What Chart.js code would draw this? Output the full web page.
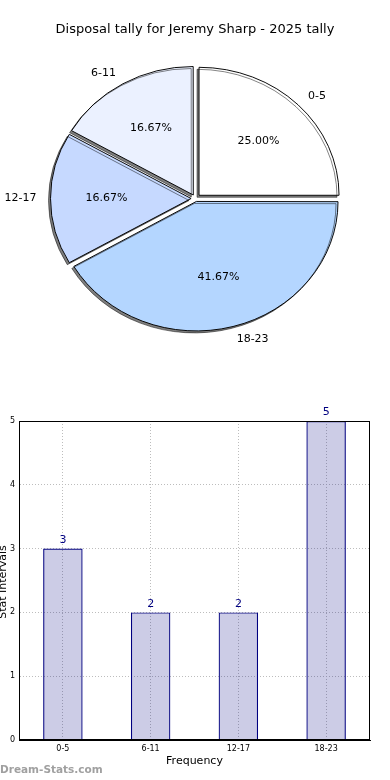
<!doctype html>
<html lang="en">
<head>
    <meta charset="utf-8">
    <title>Disposal tally</title>
    <script src="https://cdn.jsdelivr.net/npm/chart.js@4.4.0/dist/chart.umd.min.js"></script>
    <style>
        body { margin: 0; background: #fff; width: 390px; height: 780px; position: relative; overflow: hidden; }
        #pie { position: absolute; left: 0; top: 0; }
        #bar { position: absolute; left: 0; top: 390px; }
        #mark { position: absolute; left: 0; top: 763px; font: bold 10.5px "DejaVu Sans", sans-serif; color: #a0a0a0; }
    </style>
</head>
<body>
    <canvas id="pie" width="390" height="390"></canvas>
    <canvas id="bar" width="390" height="390"></canvas>
    <div id="mark">Dream-Stats.com</div>

    <script>
        var titulo = 'Disposal tally for Jeremy Sharp - 2025 tally';
        var rangos = ['0-5', '6-11', '12-17', '18-23'];
        var conteo = [3, 2, 2, 5];
        var colores = ['#ffffff', '#ebf1ff', '#c6d9ff', '#b4d6ff'];
        var ticksY = [0, 1, 2, 3, 4, 5];

        var fuente = '"DejaVu Sans", sans-serif';
        var total = conteo.reduce(function (a, b) { return a + b; }, 0);
        var EXPLODE = 5;   // desplazamiento de cada porcion en px
        var ESCALA_Y = 0.914; // la torta original sale un poco achatada

        // chart.js dibuja en sentido horario desde arriba, matplotlib al reves:
        // invierto el orden y arranco en las 3
        var ordenTorta = [3, 2, 1, 0];

        function offsetPorcion(c) {
            var ang = c.raw / total * 2 * Math.PI;
            var fix = 1 - Math.sin(Math.min(Math.PI, ang));
            return 4 * EXPLODE / (1 + fix);
        }

        var tortaPlugin = {
            id: 'torta',
            beforeDatasetsDraw: function (chart) {
                var a = chart.getDatasetMeta(0).data[0];
                var ctx = chart.ctx;
                ctx.save();
                ctx.translate(a.x, a.y);
                ctx.scale(1, ESCALA_Y);
                ctx.translate(-a.x, -a.y);
                ctx.shadowColor = 'rgba(0,0,0,0.5)';
                ctx.shadowOffsetX = -2;
                ctx.shadowOffsetY = 2;
                ctx.shadowBlur = 0;
            },
            afterDatasetsDraw: function (chart) {
                var ctx = chart.ctx;
                ctx.restore();
                var arcs = chart.getDatasetMeta(0).data;
                ctx.save();
                ctx.fillStyle = '#000';
                ctx.font = '11px ' + fuente;
                ctx.textBaseline = 'middle';
                arcs.forEach(function (a, i) {
                    var k = ordenTorta[i];
                    var mid = (a.startAngle + a.endAngle) / 2;
                    var cs = Math.cos(mid), sn = Math.sin(mid);
                    var r = a.outerRadius;
                    var ox = a.x + EXPLODE * cs;
                    var oy = a.y + EXPLODE * sn * ESCALA_Y;
                    ctx.textAlign = cs > 0 ? 'left' : 'right';
                    ctx.fillText(rangos[k], ox + 1.1 * r * cs, oy + 1.1 * r * sn * ESCALA_Y);
                    ctx.textAlign = 'center';
                    var pct = (conteo[k] / total * 100).toFixed(2) + '%';
                    ctx.fillText(pct, ox + 0.6 * r * cs, oy + 0.6 * r * sn * ESCALA_Y);
                });
                ctx.font = '13px ' + fuente;
                ctx.textAlign = 'center';
                ctx.fillText(titulo, 195, 30);
                ctx.restore();
            }
        };

        new Chart(document.getElementById('pie'), {
            type: 'pie',
            data: {
                labels: ordenTorta.map(function (k) { return rangos[k]; }),
                datasets: [{
                    data: ordenTorta.map(function (k) { return conteo[k]; }),
                    backgroundColor: ordenTorta.map(function (k) { return colores[k]; }),
                    borderColor: '#000',
                    borderWidth: 1,
                    offset: offsetPorcion,
                    hoverOffset: 0,
                    clip: false
                }]
            },
            options: {
                responsive: false,
                animation: false,
                rotation: 90,
                layout: { padding: { left: 45, right: 44, top: 48, bottom: 41 } },
                plugins: { legend: { display: false }, tooltip: { enabled: false } }
            },
            plugins: [tortaPlugin]
        });

        // grafico de barras
        var barrasPlugin = {
            id: 'barras',
            afterDraw: function (chart) {
                var ctx = chart.ctx;
                var ca = chart.chartArea;
                ctx.save();
                ctx.strokeStyle = '#000';
                ctx.lineWidth = 1;
                ctx.strokeRect(Math.round(ca.left) + 0.5, Math.round(ca.top) + 0.5,
                    Math.round(ca.right - ca.left) - 1, Math.round(ca.bottom - ca.top) - 1);

                var meta = chart.getDatasetMeta(0);
                ctx.fillStyle = '#000080';
                ctx.font = '11px ' + fuente;
                ctx.textAlign = 'center';
                ctx.textBaseline = 'bottom';
                meta.data.forEach(function (b, i) {
                    ctx.fillText(String(conteo[i]), b.x, b.y - 3);
                });

                ctx.fillStyle = '#000';
                ctx.textBaseline = 'middle';
                ctx.fillText('Frequency', (ca.left + ca.right) / 2, 371);
                ctx.translate(3, 192);
                ctx.rotate(-Math.PI / 2);
                ctx.fillText('Stat Intervals', 0, 0);
                ctx.restore();
            }
        };

        new Chart(document.getElementById('bar'), {
            type: 'bar',
            data: {
                labels: rangos,
                datasets: [{
                    data: conteo,
                    backgroundColor: 'rgba(0,0,128,0.2)',
                    borderColor: '#000080',
                    borderWidth: 1.2,
                    barPercentage: 0.45,
                    categoryPercentage: 1
                }]
            },
            options: {
                responsive: false,
                animation: false,
                layout: { padding: { left: 0, right: 20, top: 31, bottom: 0 } },
                plugins: { legend: { display: false }, tooltip: { enabled: false } },
                scales: {
                    x: {
                        offset: true,
                        grid: { offset: false, color: '#bdbdbd', drawTicks: false },
                        border: { color: '#000', dash: [1, 2] },
                        ticks: { color: '#000', font: { size: 8, family: fuente }, padding: 4, maxRotation: 0 },
                        afterFit: function (s) { s.height = 40; }
                    },
                    y: {
                        min: 0,
                        max: 5,
                        grid: { color: '#bdbdbd', drawTicks: false },
                        border: { color: '#000', dash: [1, 2] },
                        ticks: {
                            color: '#000', font: { size: 8, family: fuente }, padding: 4, stepSize: 1,
                            callback: function (v) { return ticksY.indexOf(v) >= 0 ? String(v) : ''; }
                        },
                        afterFit: function (s) { s.width = 19; }
                    }
                }
            },
            plugins: [barrasPlugin]
        });
    </script>
</body>
</html>
